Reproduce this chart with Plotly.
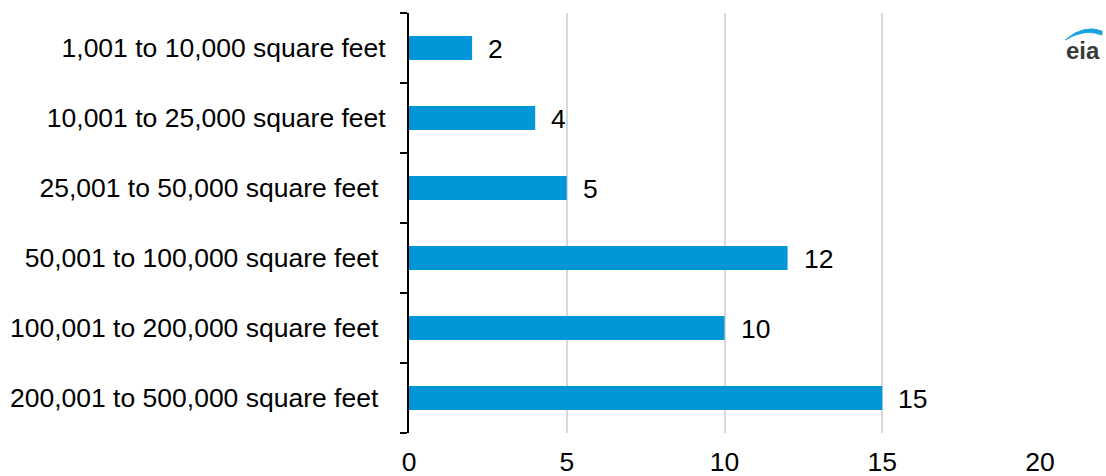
import plotly.graph_objects as go

# Building size categories (top to bottom) and their values
categories = [
    "1,001 to 10,000 square feet",
    "10,001 to 25,000 square feet",
    "25,001 to 50,000 square feet\u00a0",
    "50,001 to 100,000 square feet\u00a0",
    "100,001 to 200,000 square feet\u00a0",
    "200,001 to 500,000 square feet\u00a0",
]
values = [2, 4, 5, 12, 10, 15]
x_ticks = [0, 5, 10, 15, 20]

BAR_COLOR = "#0096D7"
FONT = "Liberation Sans, Arial, sans-serif"
FS = 26.5

fig = go.Figure()
fig.add_trace(go.Bar(
    x=values,
    y=categories,
    orientation="h",
    marker=dict(color=BAR_COLOR, line=dict(width=0)),
    hoverinfo="x+y",
))

# value labels just past the end of each bar
for cat, v in zip(categories, values):
    fig.add_annotation(
        x=v, y=cat, text=str(v), showarrow=False,
        xanchor="left", xshift=14, yshift=-1,
        font=dict(family=FONT, size=FS, color="#000000"),
    )

# Plot-area geometry in pixels, used to place the logo
L, R, T, B = 409, 1040, 13, 433
W, H = R - L, B - T


def px(x):
    return (x - L) / W


def py(y):
    return (B - y) / H


# eia logo: arc plus wordmark
fig.add_shape(
    type="path", xref="paper", yref="paper",
    path=(f"M {px(1065)},{py(40)} Q {px(1084)},{py(24)} {px(1102)},{py(31)} "
          f"L {px(1102)},{py(35)} Q {px(1085)},{py(28)} {px(1065)},{py(40)} Z"),
    fillcolor="#1ba0e0", line=dict(color="#1ba0e0", width=0.8),
)
fig.add_annotation(
    x=px(1083), y=py(50), xref="paper", yref="paper", text="<b>eia</b>",
    showarrow=False, xanchor="center", yanchor="middle",
    font=dict(family=FONT, size=24, color="#3a3a3a"),
)

fig.update_layout(
    width=1106, height=476,
    margin=dict(l=L, r=1106 - R, t=T, b=476 - B, autoexpand=False),
    paper_bgcolor="white", plot_bgcolor="white",
    bargap=0.66,
    showlegend=False,
    font=dict(family=FONT, size=FS, color="#000000"),
)
fig.update_xaxes(
    range=[0, 20], tickvals=x_ticks, ticktext=[str(t) for t in x_ticks],
    showgrid=True, gridcolor="#d9d9d9", gridwidth=1.5,
    zeroline=False, showline=False, automargin=False,
    ticks="outside", ticklen=5, tickcolor="rgba(0,0,0,0)",
    tickfont=dict(family=FONT, size=FS, color="#000000"),
)
fig.update_yaxes(
    categoryorder="array", categoryarray=categories[::-1],
    showline=True, linecolor="#000000", linewidth=2,
    ticks="outside", tickson="boundaries", ticklen=7,
    tickwidth=2, tickcolor="#000000",
    showgrid=False, zeroline=False, automargin=False,
    ticklabelstandoff=16,
    tickfont=dict(family=FONT, size=FS, color="#000000"),
)

fig.write_html("out.html")
